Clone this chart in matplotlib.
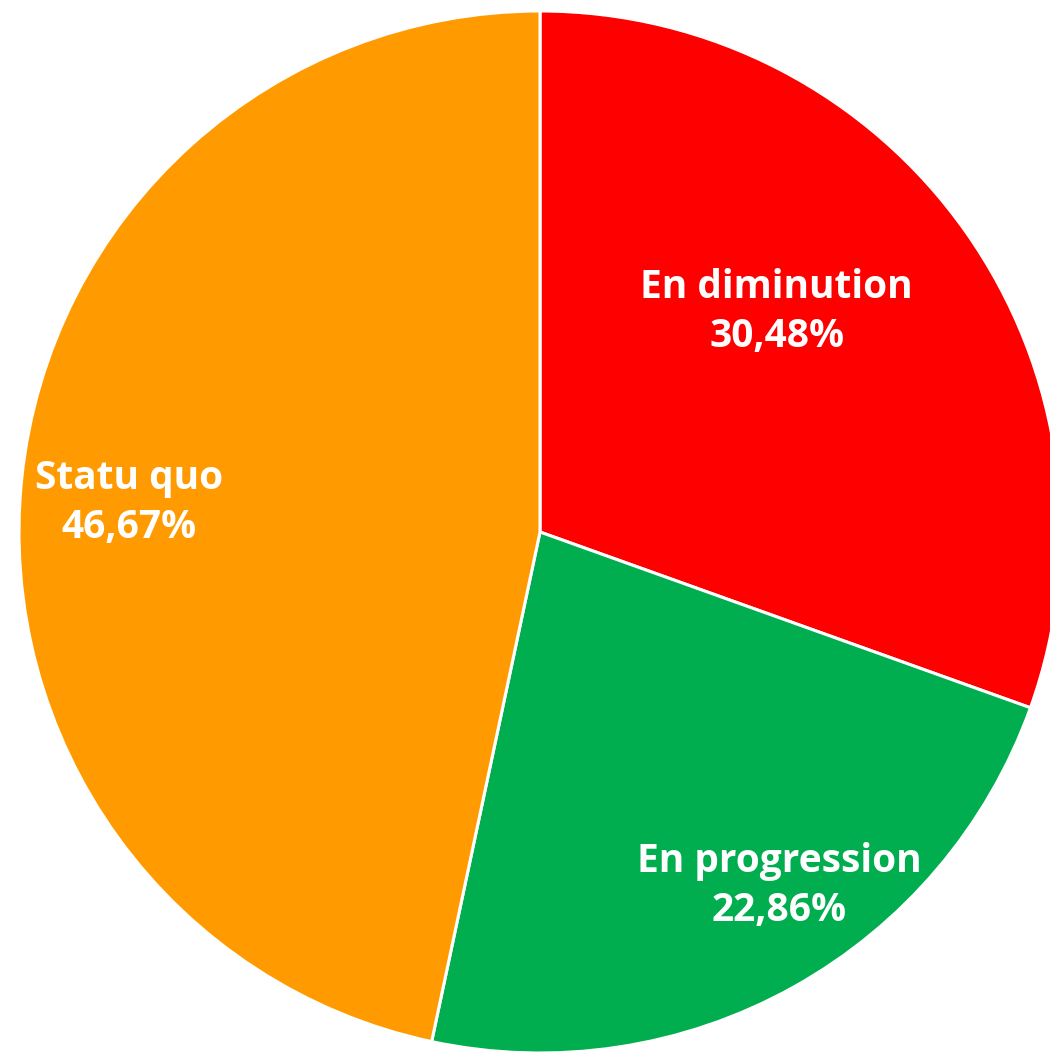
import numpy as np
import matplotlib
matplotlib.use('Agg')
import matplotlib.pyplot as plt

# =========================
# Données
# =========================
categories = ['En diminution', 'En progression', 'Statu quo']
valeurs = [30.48, 22.86, 46.67]
etiquettes = ['30,48%', '22,86%', '46,67%']
couleurs = ['#FF0000', '#00AE4F', '#FF9B00']

# position des étiquettes (angle en degrés, distance relative au rayon)
pos_etiquettes = [(42.9, 0.62), (-56.0, 0.82), (176.0, 0.79)]

# =========================
# Figure
# =========================
W, H = 1050, 1054
cx, cy, r = 540, 532, 521

fig = plt.figure(figsize=(W / 100, H / 100), dpi=100)
ax = fig.add_axes([0, 0, 1, 1])

ax.pie(valeurs, colors=couleurs, startangle=90, counterclock=False,
       radius=1, wedgeprops=dict(edgecolor='white', linewidth=2.2))

for cat, lab, (ang, d) in zip(categories, etiquettes, pos_etiquettes):
    a = np.deg2rad(ang)
    ax.text(d * np.cos(a), d * np.sin(a), cat + '\n' + lab,
            ha='center', va='center', color='white', fontsize=28,
            fontweight='bold', family='Open Sans', linespacing=1.32)

ax.set_xlim(-cx / r, (W - cx) / r)
ax.set_ylim(-(H - cy) / r, cy / r)
ax.axis('off')

plt.savefig('out.png', dpi=100)
plt.close()
